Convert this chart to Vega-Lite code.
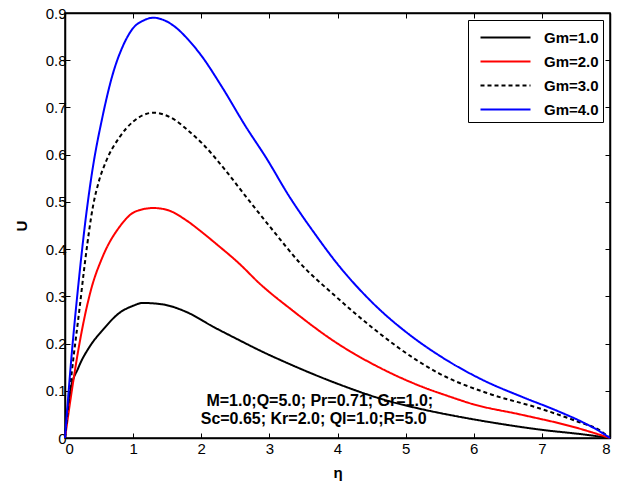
{
  "$schema": "https://vega.github.io/schema/vega-lite/v6.json",
  "width": 545,
  "height": 425,
  "autosize": {"type": "none"},
  "padding": {"left": 65, "top": 13, "right": 7, "bottom": 48},
  "background": "white",
  "config": {
    "view": {"stroke": "black", "strokeWidth": 1.5},
    "font": "Liberation Sans",
    "axis": {
      "grid": false,
      "domainColor": "black",
      "domainWidth": 1.5,
      "tickColor": "black",
      "tickWidth": 1,
      "tickSize": -5,
      "labelFont": "Liberation Sans",
      "labelFontSize": 15,
      "labelColor": "black",
      "titleFont": "Liberation Sans",
      "titleFontSize": 15,
      "titleFontWeight": "bold",
      "titleColor": "black"
    },
    "legend": {
      "orient": "top-right",
      "offset": 7,
      "padding": 4,
      "strokeColor": "black",
      "fillColor": "white",
      "labelFont": "Liberation Sans",
      "labelFontSize": 15,
      "labelFontWeight": "bold",
      "labelColor": "black",
      "symbolType": "M-2,0H2",
      "symbolSize": 625,
      "symbolStrokeWidth": 2,
      "symbolOffset": 20,
      "labelOffset": 25,
      "rowPadding": 2
    }
  },
  "datasets": {
    "curves": [
      {"eta": 0, "U": 0, "Gm": "Gm=1.0"},
      {"eta": 0.07, "U": 0.094, "Gm": "Gm=1.0"},
      {"eta": 0.2, "U": 0.15, "Gm": "Gm=1.0"},
      {"eta": 0.36, "U": 0.193, "Gm": "Gm=1.0"},
      {"eta": 0.55, "U": 0.228, "Gm": "Gm=1.0"},
      {"eta": 0.8, "U": 0.265, "Gm": "Gm=1.0"},
      {"eta": 1.0, "U": 0.28, "Gm": "Gm=1.0"},
      {"eta": 1.14, "U": 0.286, "Gm": "Gm=1.0"},
      {"eta": 1.43, "U": 0.283, "Gm": "Gm=1.0"},
      {"eta": 1.78, "U": 0.267, "Gm": "Gm=1.0"},
      {"eta": 2.17, "U": 0.236, "Gm": "Gm=1.0"},
      {"eta": 2.56, "U": 0.207, "Gm": "Gm=1.0"},
      {"eta": 2.85, "U": 0.186, "Gm": "Gm=1.0"},
      {"eta": 3.29, "U": 0.157, "Gm": "Gm=1.0"},
      {"eta": 3.98, "U": 0.116, "Gm": "Gm=1.0"},
      {"eta": 4.66, "U": 0.082, "Gm": "Gm=1.0"},
      {"eta": 5.3, "U": 0.059, "Gm": "Gm=1.0"},
      {"eta": 5.64, "U": 0.049, "Gm": "Gm=1.0"},
      {"eta": 6.22, "U": 0.034, "Gm": "Gm=1.0"},
      {"eta": 6.96, "U": 0.018, "Gm": "Gm=1.0"},
      {"eta": 7.64, "U": 0.007, "Gm": "Gm=1.0"},
      {"eta": 8, "U": 0, "Gm": "Gm=1.0"},

      {"eta": 0, "U": 0, "Gm": "Gm=2.0"},
      {"eta": 0.1, "U": 0.1, "Gm": "Gm=2.0"},
      {"eta": 0.2, "U": 0.19, "Gm": "Gm=2.0"},
      {"eta": 0.38, "U": 0.313, "Gm": "Gm=2.0"},
      {"eta": 0.55, "U": 0.383, "Gm": "Gm=2.0"},
      {"eta": 0.8, "U": 0.447, "Gm": "Gm=2.0"},
      {"eta": 1.04, "U": 0.48, "Gm": "Gm=2.0"},
      {"eta": 1.3, "U": 0.487, "Gm": "Gm=2.0"},
      {"eta": 1.5, "U": 0.483, "Gm": "Gm=2.0"},
      {"eta": 1.78, "U": 0.461, "Gm": "Gm=2.0"},
      {"eta": 2.0, "U": 0.437, "Gm": "Gm=2.0"},
      {"eta": 2.22, "U": 0.411, "Gm": "Gm=2.0"},
      {"eta": 2.56, "U": 0.369, "Gm": "Gm=2.0"},
      {"eta": 2.85, "U": 0.328, "Gm": "Gm=2.0"},
      {"eta": 3.34, "U": 0.27, "Gm": "Gm=2.0"},
      {"eta": 3.98, "U": 0.202, "Gm": "Gm=2.0"},
      {"eta": 4.66, "U": 0.146, "Gm": "Gm=2.0"},
      {"eta": 5.25, "U": 0.108, "Gm": "Gm=2.0"},
      {"eta": 5.64, "U": 0.088, "Gm": "Gm=2.0"},
      {"eta": 5.98, "U": 0.072, "Gm": "Gm=2.0"},
      {"eta": 6.71, "U": 0.049, "Gm": "Gm=2.0"},
      {"eta": 7.45, "U": 0.024, "Gm": "Gm=2.0"},
      {"eta": 8, "U": 0, "Gm": "Gm=2.0"},

      {"eta": 0, "U": 0, "Gm": "Gm=3.0"},
      {"eta": 0.1, "U": 0.14, "Gm": "Gm=3.0"},
      {"eta": 0.21, "U": 0.27, "Gm": "Gm=3.0"},
      {"eta": 0.3, "U": 0.38, "Gm": "Gm=3.0"},
      {"eta": 0.41, "U": 0.49, "Gm": "Gm=3.0"},
      {"eta": 0.5, "U": 0.545, "Gm": "Gm=3.0"},
      {"eta": 0.6, "U": 0.585, "Gm": "Gm=3.0"},
      {"eta": 0.8, "U": 0.637, "Gm": "Gm=3.0"},
      {"eta": 1.0, "U": 0.67, "Gm": "Gm=3.0"},
      {"eta": 1.15, "U": 0.684, "Gm": "Gm=3.0"},
      {"eta": 1.3, "U": 0.689, "Gm": "Gm=3.0"},
      {"eta": 1.45, "U": 0.685, "Gm": "Gm=3.0"},
      {"eta": 1.63, "U": 0.672, "Gm": "Gm=3.0"},
      {"eta": 1.8, "U": 0.652, "Gm": "Gm=3.0"},
      {"eta": 2.02, "U": 0.623, "Gm": "Gm=3.0"},
      {"eta": 2.36, "U": 0.566, "Gm": "Gm=3.0"},
      {"eta": 2.7, "U": 0.503, "Gm": "Gm=3.0"},
      {"eta": 3.05, "U": 0.44, "Gm": "Gm=3.0"},
      {"eta": 3.44, "U": 0.372, "Gm": "Gm=3.0"},
      {"eta": 3.98, "U": 0.299, "Gm": "Gm=3.0"},
      {"eta": 4.56, "U": 0.228, "Gm": "Gm=3.0"},
      {"eta": 5.15, "U": 0.166, "Gm": "Gm=3.0"},
      {"eta": 5.5, "U": 0.136, "Gm": "Gm=3.0"},
      {"eta": 6.22, "U": 0.094, "Gm": "Gm=3.0"},
      {"eta": 6.96, "U": 0.063, "Gm": "Gm=3.0"},
      {"eta": 7.54, "U": 0.034, "Gm": "Gm=3.0"},
      {"eta": 7.84, "U": 0.017, "Gm": "Gm=3.0"},
      {"eta": 8, "U": 0, "Gm": "Gm=3.0"},

      {"eta": 0, "U": 0, "Gm": "Gm=4.0"},
      {"eta": 0.1, "U": 0.18, "Gm": "Gm=4.0"},
      {"eta": 0.2, "U": 0.33, "Gm": "Gm=4.0"},
      {"eta": 0.3, "U": 0.46, "Gm": "Gm=4.0"},
      {"eta": 0.4, "U": 0.565, "Gm": "Gm=4.0"},
      {"eta": 0.55, "U": 0.68, "Gm": "Gm=4.0"},
      {"eta": 0.7, "U": 0.77, "Gm": "Gm=4.0"},
      {"eta": 0.85, "U": 0.83, "Gm": "Gm=4.0"},
      {"eta": 1.0, "U": 0.868, "Gm": "Gm=4.0"},
      {"eta": 1.15, "U": 0.884, "Gm": "Gm=4.0"},
      {"eta": 1.3, "U": 0.89, "Gm": "Gm=4.0"},
      {"eta": 1.45, "U": 0.885, "Gm": "Gm=4.0"},
      {"eta": 1.63, "U": 0.869, "Gm": "Gm=4.0"},
      {"eta": 1.8, "U": 0.845, "Gm": "Gm=4.0"},
      {"eta": 2.0, "U": 0.81, "Gm": "Gm=4.0"},
      {"eta": 2.31, "U": 0.742, "Gm": "Gm=4.0"},
      {"eta": 2.66, "U": 0.658, "Gm": "Gm=4.0"},
      {"eta": 2.95, "U": 0.594, "Gm": "Gm=4.0"},
      {"eta": 3.29, "U": 0.512, "Gm": "Gm=4.0"},
      {"eta": 3.68, "U": 0.43, "Gm": "Gm=4.0"},
      {"eta": 3.98, "U": 0.372, "Gm": "Gm=4.0"},
      {"eta": 4.51, "U": 0.287, "Gm": "Gm=4.0"},
      {"eta": 5.1, "U": 0.214, "Gm": "Gm=4.0"},
      {"eta": 5.49, "U": 0.175, "Gm": "Gm=4.0"},
      {"eta": 6.13, "U": 0.123, "Gm": "Gm=4.0"},
      {"eta": 6.71, "U": 0.087, "Gm": "Gm=4.0"},
      {"eta": 7.2, "U": 0.059, "Gm": "Gm=4.0"},
      {"eta": 7.59, "U": 0.034, "Gm": "Gm=4.0"},
      {"eta": 7.85, "U": 0.014, "Gm": "Gm=4.0"},
      {"eta": 8, "U": 0, "Gm": "Gm=4.0"}
    ],
    "notes": [
      {"eta": 3.74, "U": 0.078, "t": "M=1.0;Q=5.0; Pr=0.71; Gr=1.0;"},
      {"eta": 3.65, "U": 0.040, "t": "Sc=0.65; Kr=2.0; Ql=1.0;R=5.0"}
    ]
  },
  "layer": [
    {
      "data": {"name": "curves"},
      "mark": {"type": "line", "strokeWidth": 2, "interpolate": "monotone"},
      "encoding": {
        "x": {"field": "eta", "type": "quantitative", "scale": {"domain": [0, 8], "nice": false},
              "axis": {"title": "η", "values": [0,1,2,3,4,5,6,7,8], "format": "d", "labelPadding": 8, "titlePadding": 9}},
        "y": {"field": "U", "type": "quantitative", "scale": {"domain": [0, 0.9], "nice": false},
              "axis": {"title": "U", "values": [0,0.1,0.2,0.3,0.4,0.5,0.6,0.7,0.8,0.9], "labelPadding": 4, "titlePadding": 16,
                       "labelExpr": "datum.value == 0 ? '0' : format(datum.value, '.1f')"}},
        "color": {"field": "Gm", "type": "nominal", "title": null,
                  "scale": {"domain": ["Gm=1.0", "Gm=2.0", "Gm=3.0", "Gm=4.0"], "range": ["#000000", "#ff0000", "#000000", "#0000ff"]}},
        "strokeDash": {"field": "Gm", "type": "nominal", "title": null,
                  "scale": {"domain": ["Gm=1.0", "Gm=2.0", "Gm=3.0", "Gm=4.0"], "range": [[1, 0], [1, 0], [4, 3], [1, 0]]}}
      }
    },
    {
      "data": {"name": "curves"},
      "mark": {"type": "line", "opacity": 0},
      "encoding": {
        "x": {"field": "eta", "type": "quantitative",
              "axis": {"orient": "top", "title": null, "labels": false, "values": [0,1,2,3,4,5,6,7,8]}},
        "y": {"field": "U", "type": "quantitative",
              "axis": {"orient": "right", "title": null, "labels": false, "values": [0,0.1,0.2,0.3,0.4,0.5,0.6,0.7,0.8,0.9]}}
      }
    },
    {
      "data": {"name": "notes"},
      "mark": {"type": "text", "font": "Liberation Sans", "fontSize": 16, "fontWeight": "bold", "align": "center", "baseline": "middle", "color": "black"},
      "encoding": {
        "x": {"field": "eta", "type": "quantitative", "axis": null},
        "y": {"field": "U", "type": "quantitative", "axis": null},
        "text": {"field": "t"}
      }
    }
  ],
  "resolve": {"axis": {"x": "independent", "y": "independent"}}
}
